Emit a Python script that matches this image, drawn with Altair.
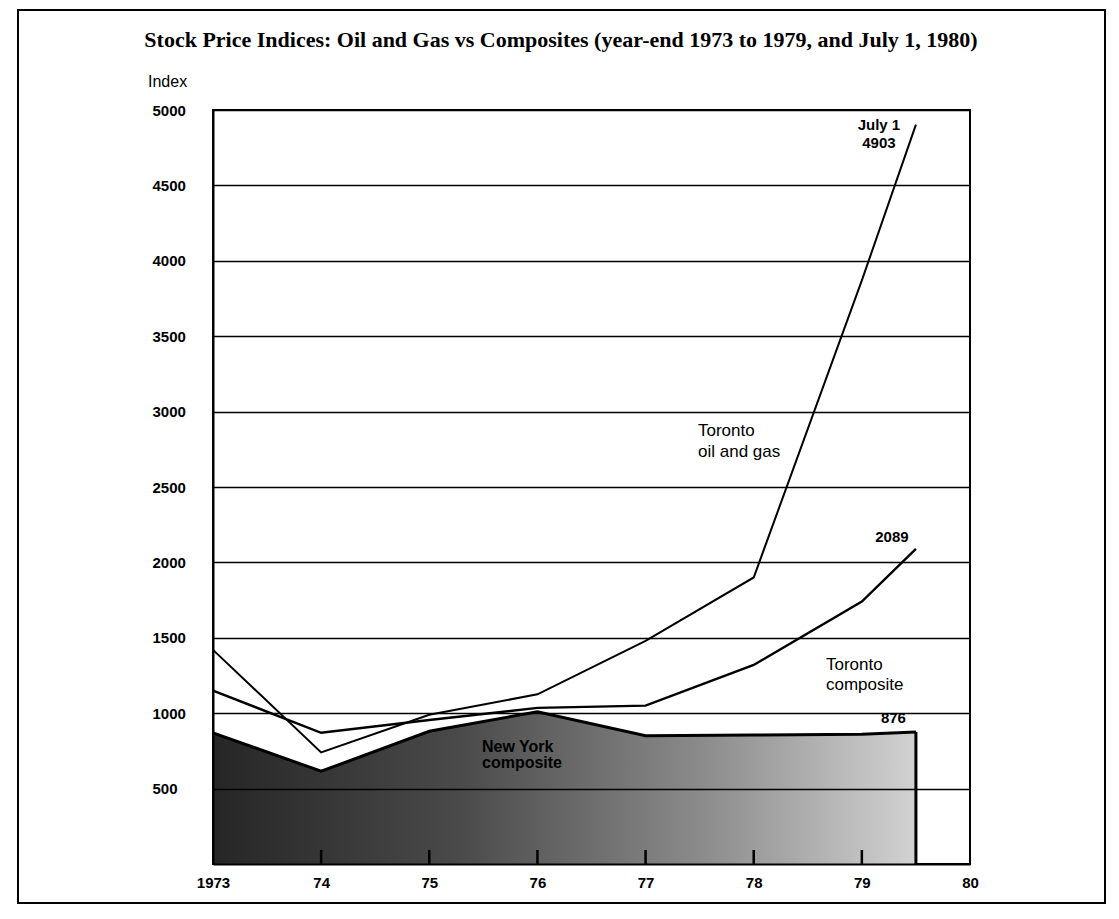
import altair as alt
import pandas as pd

# ---- data ----
years = [1973, 1974, 1975, 1976, 1977, 1978, 1979, 1979.5]  # 1979.5 = July 1, 1980
oil_gas = [1420, 740, 990, 1125, 1480, 1900, 3870, 4903]
toronto_composite = [1150, 870, 955, 1035, 1050, 1320, 1740, 2089]
new_york_composite = [870, 615, 880, 1010, 850, 855, 860, 876]
x_ticks = [1973, 1974, 1975, 1976, 1977, 1978, 1979, 1980]
inner_ticks = [1974, 1975, 1976, 1977, 1978, 1979]
y_ticks = [500, 1000, 1500, 2000, 2500, 3000, 3500, 4000, 4500, 5000]
title_text = "Stock Price Indices: Oil and Gas vs Composites (year-end 1973 to 1979, and July 1, 1980)"

df = pd.DataFrame({"year": years, "oil": oil_gas, "comp": toronto_composite, "ny": new_york_composite})
last = df.tail(1)

W, H = 757, 754
SANS = "Liberation Sans"
SERIF = "Liberation Serif"

xs = alt.Scale(domain=[1973, 1980], nice=False, zero=False)
ys = alt.Scale(domain=[0, 5000], nice=False)

x_axis = alt.Axis(values=x_ticks, format="d",
                  labelExpr="datum.value == 1973 ? '1973' : substring(datum.label, 2)",
                  grid=False, ticks=False, labelPadding=11, labelFontSize=15,
                  labelFontWeight="bold", labelFont=SANS, labelColor="black",
                  labelFlush=False, labelOverlap=False,
                  domainColor="black", domainWidth=2, title=None, zindex=1)
y_axis = alt.Axis(values=y_ticks, format="d", grid=True, gridColor="black", gridWidth=1.6,
                  gridOpacity=1, ticks=False, labelAlign="left", labelPadding=61,
                  labelFontSize=15, labelFontWeight="bold", labelFont=SANS,
                  labelColor="black", labelFlush=False, labelOverlap=False,
                  domainColor="black", domainWidth=2,
                  title=None, zindex=1)


def X(field):
    return alt.X(field, scale=xs, axis=x_axis)


def Y(field):
    return alt.Y(field, scale=ys, axis=y_axis)


gradient = alt.Gradient(
    gradient="linear",
    stops=[alt.GradientStop(color="#262626", offset=0),
           alt.GradientStop(color="#4a4a4a", offset=0.35),
           alt.GradientStop(color="#8c8c8c", offset=0.7),
           alt.GradientStop(color="#d2d2d2", offset=1)],
    x1=0, x2=1, y1=0, y2=0)

area = alt.Chart(df).mark_area(
    color=gradient, opacity=1, line={"color": "black", "strokeWidth": 3}
).encode(x=X("year:Q"), y=Y("ny:Q"))

area_edge = alt.Chart(last).mark_rule(color="black", strokeWidth=3).encode(
    x=X("year:Q"), y=Y("ny:Q"), y2=alt.datum(0))

tick_df = pd.DataFrame({"year": inner_ticks})
ticks = alt.Chart(tick_df).mark_rule(color="black", strokeWidth=2.5).encode(
    x=X("year:Q"), y=alt.value(H), y2=alt.value(H - 14))

oil_line = alt.Chart(df).mark_line(color="black", strokeWidth=2).encode(
    x=X("year:Q"), y=Y("oil:Q"))
comp_line = alt.Chart(df).mark_line(color="black", strokeWidth=2.4).encode(
    x=X("year:Q"), y=Y("comp:Q"))

num_style = dict(font=SANS, fontSize=15, fontWeight="bold", color="black")

oil_num = alt.Chart(last).mark_text(align="center", baseline="middle", dx=-37, dy=18, **num_style).encode(
    x=X("year:Q"), y=Y("oil:Q"), text=alt.Text("oil:Q", format="d"))
oil_date = alt.Chart(last).mark_text(align="center", baseline="middle", dx=-37, dy=0, text="July 1", **num_style).encode(
    x=X("year:Q"), y=Y("oil:Q"))
comp_num = alt.Chart(last).mark_text(align="center", baseline="middle", dx=-24, dy=-12, **num_style).encode(
    x=X("year:Q"), y=Y("comp:Q"), text=alt.Text("comp:Q", format="d"))
ny_num = alt.Chart(last).mark_text(align="right", baseline="middle", dx=-10, dy=-14, **num_style).encode(
    x=X("year:Q"), y=Y("ny:Q"), text=alt.Text("ny:Q", format="d"))

one = pd.DataFrame({"a": [0]})


def label(txt, x, y, align="left", size=17, weight="normal", font=SANS):
    return alt.Chart(one).mark_text(
        text=txt, align=align, baseline="middle", fontSize=size,
        fontWeight=weight, font=font, color="black"
    ).encode(x=alt.value(x), y=alt.value(y))


labels = [
    label("Toronto", 485, 321),
    label("oil and gas", 485, 342),
    label("Toronto", 613, 555),
    label("composite", 613, 575),
    label("New York", 269, 637, size=16, weight="bold"),
    label("composite", 269, 653, size=16, weight="bold"),
    label("Index", -65, -28, size=16),
    label(title_text, 348, -70, align="center", size=22, weight="bold", font=SERIF),
]

frame = alt.Chart(one).mark_rect(fillOpacity=0, stroke="black", strokeWidth=2).encode(
    x=alt.value(-195), x2=alt.value(892), y=alt.value(-100), y2=alt.value(793))

chart = alt.layer(
    area, area_edge, ticks, oil_line, comp_line,
    oil_num, oil_date, comp_num, ny_num, *labels, frame
).properties(
    width=W, height=H,
    background="white",
    autosize=alt.AutoSizeParams(type="none"),
    padding={"left": 205, "top": 102, "right": 138, "bottom": 44},
).configure_view(stroke="black", strokeWidth=2)

chart.save("out.html", embed_options={"renderer": "svg", "actions": False})
